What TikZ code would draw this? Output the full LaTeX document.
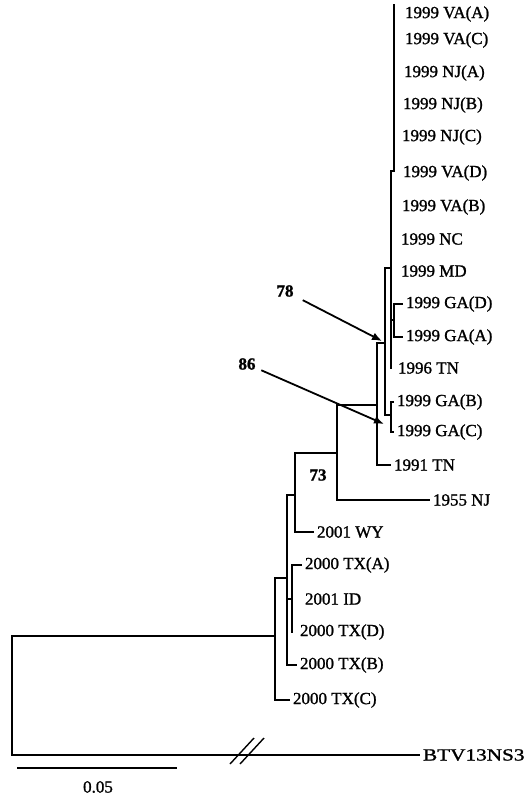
\documentclass[tikz,border=0pt]{standalone}
\usepackage{fontspec}
\setmainfont{Liberation Serif}[RawFeature={embolden=1.2}]
\usepackage{graphicx}
\usepackage{tikz}
\usetikzlibrary{arrows.meta,calc}
\tikzset{
	branch/.style={line width=2.5pt, line cap=rect},
	leaf/.style={anchor=west, inner xsep=0pt, inner ysep=1pt, outer xsep=4pt, font=\fontsize{17}{19}\selectfont},
	boot/.style={inner sep=1pt, font=\fontsize{17}{19}\selectfont\bfseries},
	pointer/.style={line width=1.8pt, -{Latex[length=10pt,width=8pt]}},
	thinbar/.style={line width=1.4pt},
}

\begin{document}
\begin{tikzpicture}[x=1pt, y=-1pt]
			%%%%% START %%%%%
			\useasboundingbox (0,0) rectangle (525,796);
			
			% tips
			\node[leaf] (vaa) at (401,14) {1999 VA(A)};
			\node[leaf] (vac) at (401,40) {1999 VA(C)};
			\node[leaf] (nja) at (400,73) {1999 NJ(A)};
			\node[leaf] (njb) at (399,105) {1999 NJ(B)};
			\node[leaf] (njc) at (398,137) {1999 NJ(C)};
			\node[leaf] (vad) at (399,173) {1999 VA(D)};
			\node[leaf] (vab) at (398,207) {1999 VA(B)};
			\node[leaf] (nc) at (397,239) {1999 NC};
			\node[leaf] (md) at (397,271) {1999 MD};
			\node[leaf] (gad) at (402,304) {1999 GA(D)};
			\node[leaf] (gaa) at (402,337) {1999 GA(A)};
			\node[leaf] (tn96) at (394,368) {1996 TN};
			\node[leaf] (gab) at (393,402) {1999 GA(B)};
			\node[leaf] (gac) at (393,432) {1999 GA(C)};
			\node[leaf] (tn91) at (390,465) {1991 TN};
			\node[leaf] (nj55) at (429,500) {1955 NJ};
			\node[leaf] (wy) at (313,532) {2001 WY};
			\node[leaf] (txa) at (301,565) {2000 TX(A)};
			\node[leaf] (id) at (301,599) {2001 ID};
			\node[leaf] (txd) at (296,632) {2000 TX(D)};
			\node[leaf] (txb) at (296,665) {2000 TX(B)};
			\node[leaf] (txc) at (289,700) {2000 TX(C)};
			\node[leaf] (btv) at (419,755) {\scalebox{1.25}[1]{BTV13NS3}};
			
			% inner nodes
			\coordinate (root) at (12,700);
			\coordinate (n1) at (275,636);
			\coordinate (n2) at (287,578);
			\coordinate (n3) at (295,495);
			\coordinate (n4) at (292,599);
			\coordinate (n5) at (337,453);
			\coordinate (n6) at (377,405);
			\coordinate (n7) at (385,343);
			\coordinate (n8) at (391,415);
			\coordinate (n10) at (391,268);
			\coordinate (n11) at (394,171);
			\coordinate (n12) at (394,320);
			
			\draw[branch] (root) |- (n1);
			\draw[branch] (root) |- (btv.west);
			\draw[branch] (n1) |- (n2);
			\draw[branch] (n1) |- (txc.west);
			\draw[branch] (n2) |- (n3);
			\draw[branch] (n2) |- (n4);
			\draw[branch] (n2) |- (txb.west);
			\draw[branch] (n4) |- (txa.west);
			\draw[branch] (n4) -- (n4 |- txd.west);
			\draw[branch] (n3) |- (n5);
			\draw[branch] (n3) |- (wy.west);
			\draw[branch] (n5) |- (n6);
			\draw[branch] (n5) |- (nj55.west);
			\draw[branch] (n6) |- (n7);
			\draw[branch] (n6) |- (tn91.west);
			\draw[branch] (n7) |- (n10);
			\draw[branch] (n7) |- (n8);
			\draw[branch] (n8) |- (gab.west);
			\draw[branch] (n8) |- (gac.west);
			\draw[branch] (n10) |- (n11);
			\draw[branch] (n10) |- (n12);
			\draw[branch] (n10) -- (n10 |- tn96.west);
			\draw[branch] (n11) -- (n11 |- vaa.north);
			\draw[branch] (n12) |- (gad.west);
			\draw[branch] (n12) |- (gaa.west);
			
			% break on the outgroup
			\coordinate (brk) at (247,751);
			\draw[thinbar] ($(brk)+(-17,13)$) -- ++(24,-26);
			\draw[thinbar] ($(brk)+(-7,13)$) -- ++(24,-26);
			
			% bootstrap values
			\node[boot] (b78) at (285,291) {78};
			\node[boot] (b86) at (247,364) {86};
			\node[boot] (b73) at (318,475) {73};
			\coordinate (t78) at (382,341);
			\coordinate (t86) at (384,424);
			\draw[pointer, shorten <=9pt] (b78) -- (t78);
			\draw[pointer, shorten <=5pt] (b86) -- (t86);
			
			% scale
			\draw[thinbar] (17,768) coordinate (sb0) -- (177,768) coordinate (sb1);
			\node[font=\fontsize{17}{19}\selectfont] (sbl) at (98,787) {0.05};
			%%%%% END %%%%%
\end{tikzpicture}
\end{document}
